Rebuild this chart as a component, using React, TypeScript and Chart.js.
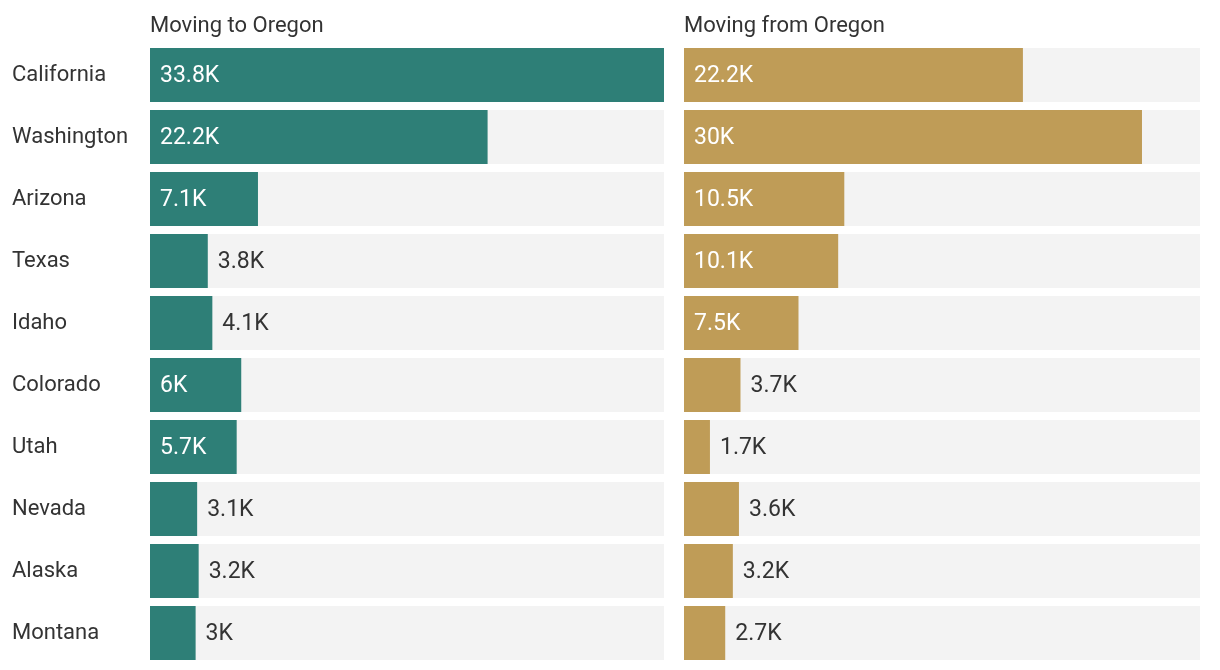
import React, { useEffect, useRef } from "react";
import { Chart, registerables } from "chart.js";

Chart.register(...registerables);

const states = ["California", "Washington", "Arizona", "Texas", "Idaho", "Colorado", "Utah", "Nevada", "Alaska", "Montana"];
const movingTo = [33.8, 22.2, 7.1, 3.8, 4.1, 6, 5.7, 3.1, 3.2, 3];
const movingFrom = [22.2, 30, 10.5, 10.1, 7.5, 3.7, 1.7, 3.6, 3.2, 2.7];
const titleTo = "Moving to Oregon";
const titleFrom = "Moving from Oregon";
const scaleMax = 33.8;

const FONT = "Roboto, 'Noto Sans', sans-serif";

function fmt(v: number) {
  return `${v}K`;
}

function makeConfig(values: number[], color: string, title: string, showLabels: boolean, yWidth: number, padding: any) {
  const labelPlugin = {
    id: "valueLabels",
    afterDatasetsDraw(chart: any) {
      const ctx = chart.ctx;
      const area = chart.chartArea;
      ctx.save();
      ctx.font = `22px ${FONT}`;
      ctx.fillStyle = "#333";
      ctx.textAlign = "left";
      ctx.textBaseline = "alphabetic";
      ctx.fillText(title, area.left, 32);
      const meta = chart.getDatasetMeta(0);
      ctx.font = `23px ${FONT}`;
      ctx.textBaseline = "middle";
      meta.data.forEach((bar: any, i: number) => {
        const v = values[i];
        const inside = v >= 5;
        if (inside) {
          ctx.fillStyle = "#ffffff";
          ctx.fillText(fmt(v), bar.base + 10, bar.y + 1);
        } else {
          ctx.fillStyle = "#333333";
          ctx.fillText(fmt(v), bar.x + 10, bar.y + 1);
        }
      });
      ctx.restore();
    },
  };
  return {
    type: "bar" as const,
    data: {
      labels: states,
      datasets: [
        {
          data: values,
          backgroundColor: color,
          order: 1,
          grouped: false,
          barPercentage: 54 / 62,
          categoryPercentage: 1,
        },
        {
          data: states.map(() => scaleMax),
          backgroundColor: "#f3f3f3",
          order: 2,
          grouped: false,
          barPercentage: 54 / 62,
          categoryPercentage: 1,
        },
      ],
    },
    options: {
      indexAxis: "y" as const,
      animation: false as const,
      responsive: false,
      maintainAspectRatio: false,
      layout: { padding },
      plugins: { legend: { display: false }, tooltip: { enabled: false }, title: { display: false } },
      scales: {
        x: { display: false, min: 0, max: scaleMax },
        y: {
          display: showLabels,
          grid: { display: false },
          border: { display: false },
          ticks: {
            padding: 0,
            crossAlign: "far" as const,
            color: "#333",
            font: { family: FONT, size: 22 },
          },
          afterFit(scale: any) {
            scale.width = yWidth;
            scale.paddingTop = 0;
            scale.paddingBottom = 0;
          },
        },
      },
    },
    plugins: [labelPlugin],
  };
}

export default function App() {
  const leftRef = useRef<HTMLCanvasElement>(null);
  const rightRef = useRef<HTMLCanvasElement>(null);
  useEffect(() => {
    const c1 = new Chart(
      leftRef.current!,
      makeConfig(movingTo, "#2e7f77", titleTo, true, 138, { left: 12, top: 44, bottom: 6, right: 6 }) as any
    );
    const c2 = new Chart(
      rightRef.current!,
      makeConfig(movingFrom, "#bf9c57", titleFrom, false, 0, { left: 14, top: 44, bottom: 6, right: 20 }) as any
    );
    return () => {
      c1.destroy();
      c2.destroy();
    };
  }, []);
  return (
    <div style={{ position: "fixed", left: 0, top: 0, width: 1220, height: 670, background: "#fff" }}>
      <canvas ref={leftRef} width={670} height={670} style={{ position: "absolute", left: 0, top: 0, width: 670, height: 670 }} />
      <canvas ref={rightRef} width={550} height={670} style={{ position: "absolute", left: 670, top: 0, width: 550, height: 670 }} />
    </div>
  );
}
